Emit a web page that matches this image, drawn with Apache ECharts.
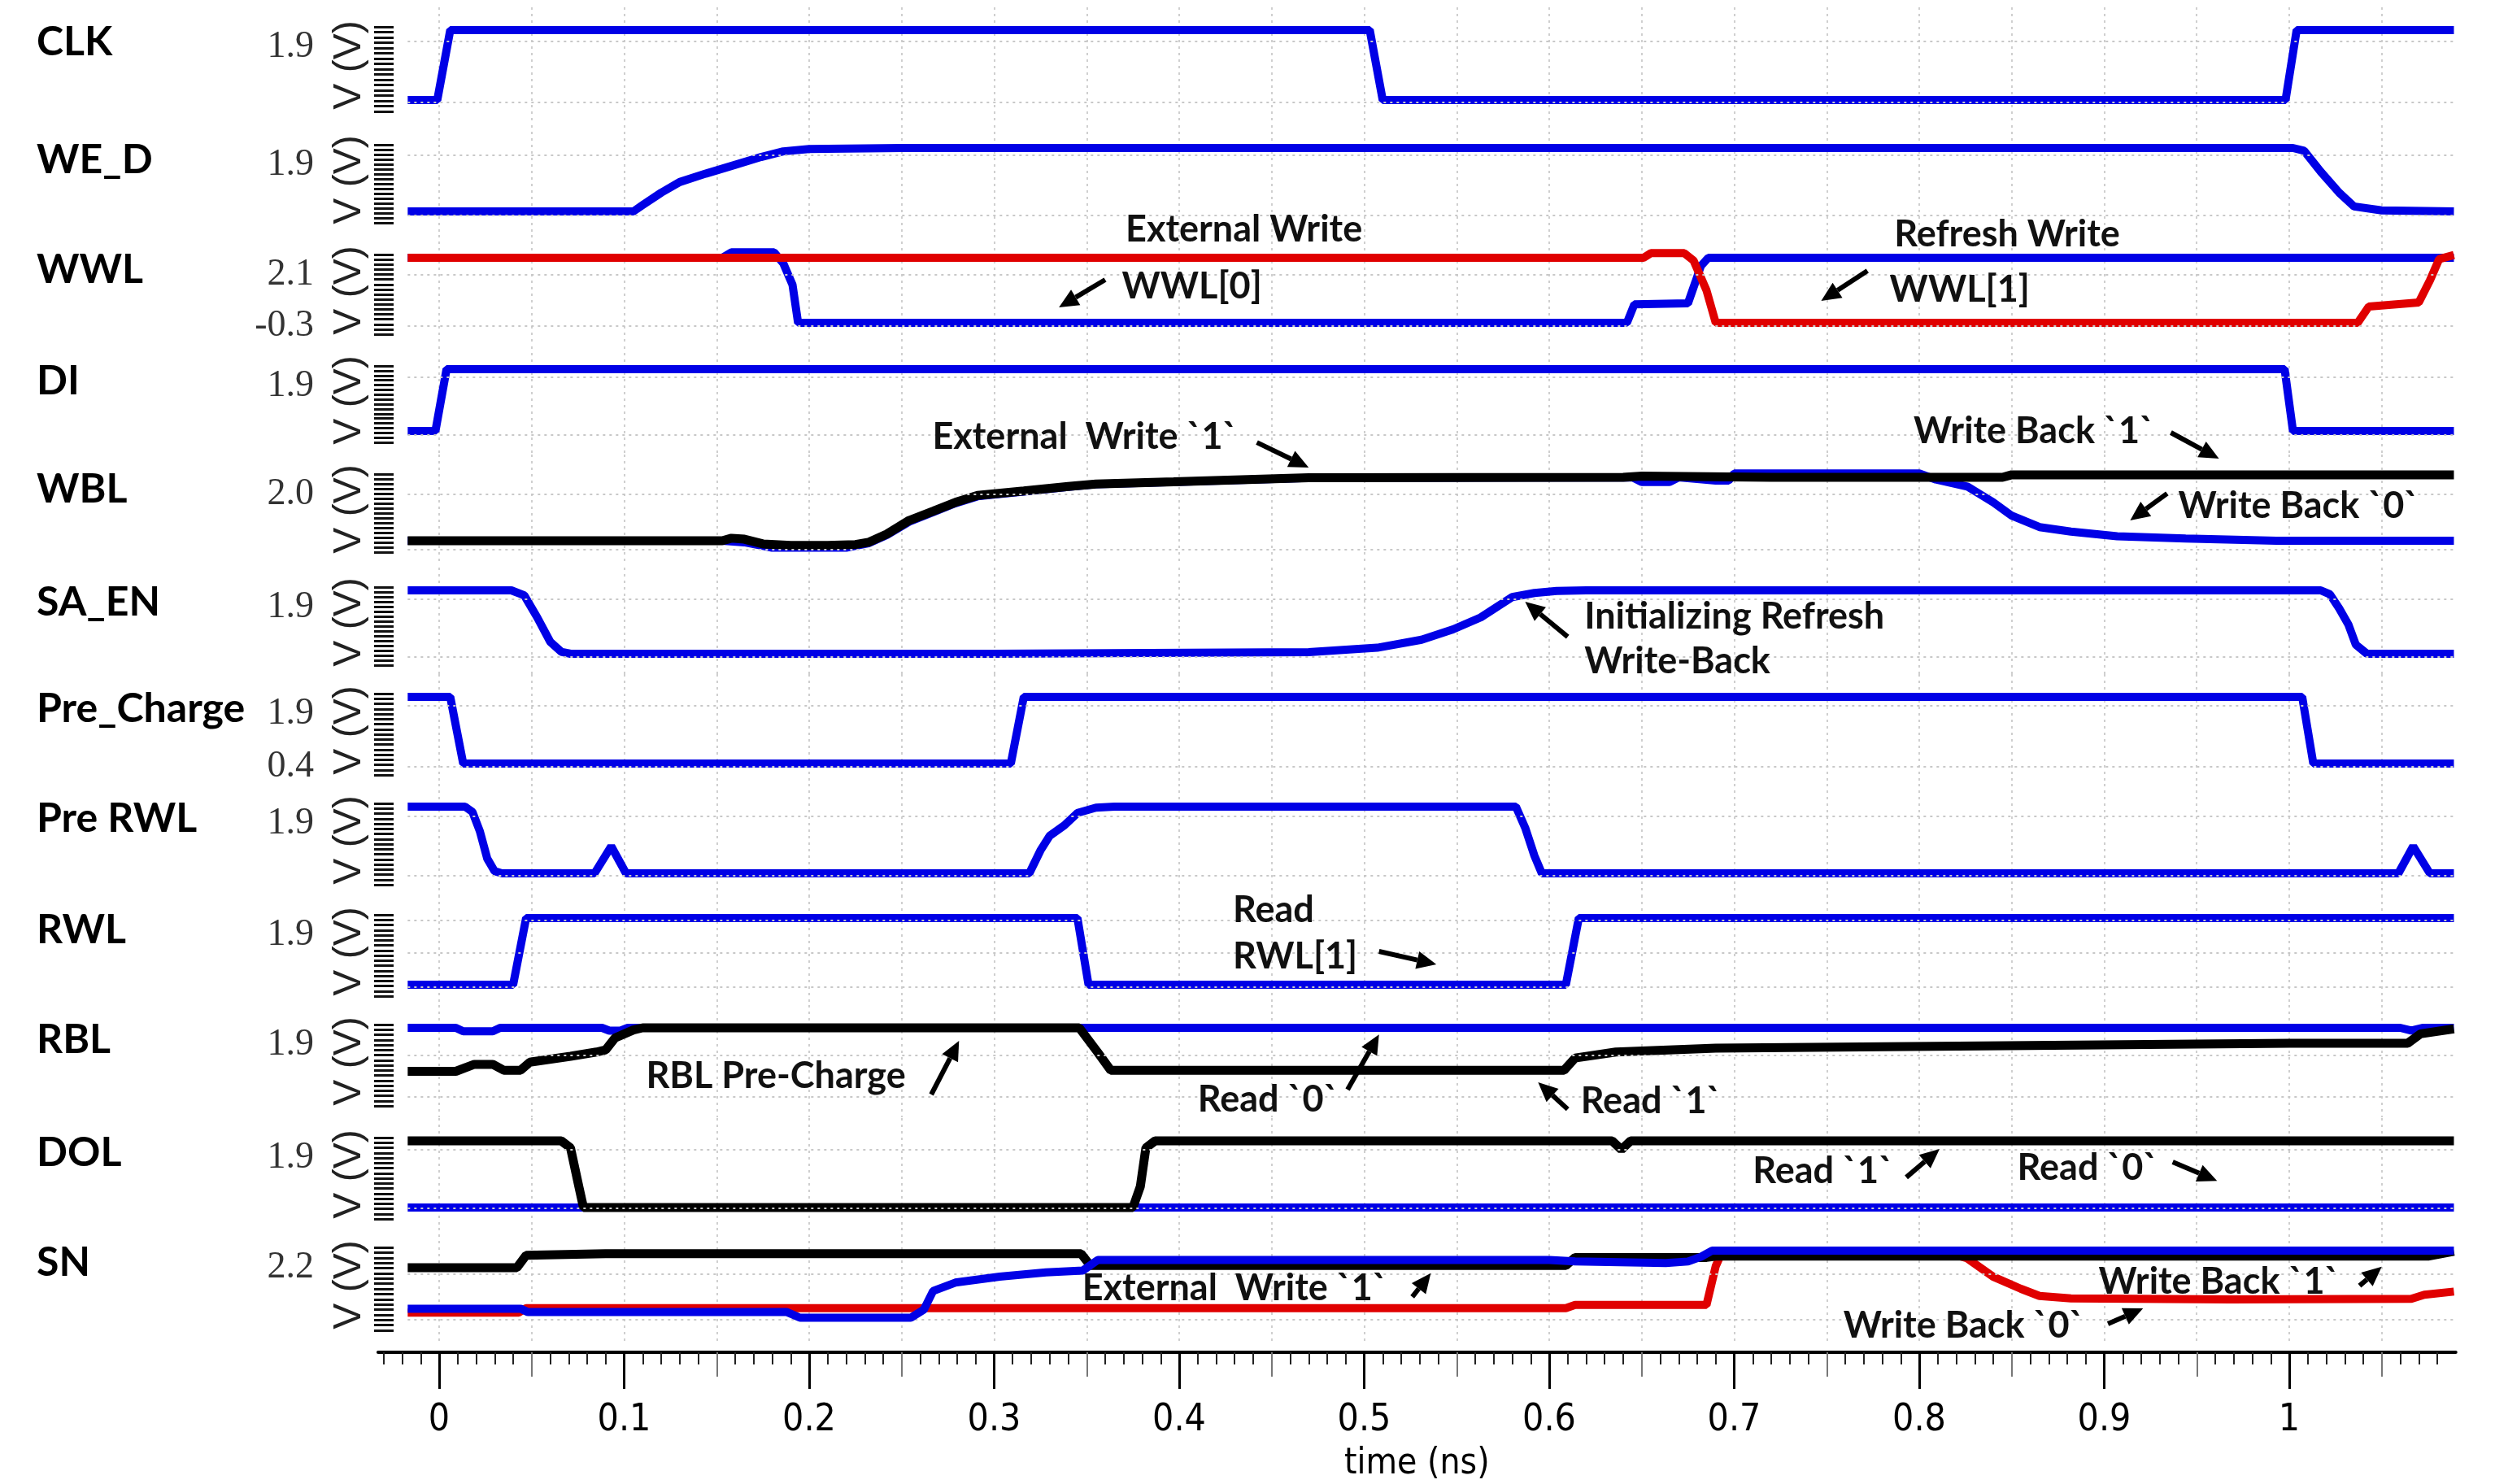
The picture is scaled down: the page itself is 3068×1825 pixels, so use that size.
<!DOCTYPE html>
<html>
<head>
<meta charset="utf-8">
<script src="https://cdn.jsdelivr.net/npm/echarts@6/dist/echarts.min.js"></script>
<style>
html, body { margin: 0; padding: 0; background: #fff; }
#chart { width: 3068px; height: 1825px; }
</style>
</head>
<body>
<div id="chart"></div>
<script>
// ---- data: time in ns, values in V ----
const timeTicks = [0, 0.1, 0.2, 0.3, 0.4, 0.5, 0.6, 0.7, 0.8, 0.9, 1]
const timeLabels = ['0', '0.1', '0.2', '0.3', '0.4', '0.5', '0.6', '0.7', '0.8', '0.9', '1']

const panelNames = ['CLK', 'WE_D', 'WWL', 'DI', 'WBL', 'SA_EN', 'Pre_Charge', 'Pre RWL', 'RWL', 'RBL', 'DOL', 'SN']
const panelTickValues = [[1.9], [1.9], [2.1, -0.3], [1.9], [2.0], [1.9], [1.9, 0.4], [1.9], [1.9], [1.9], [1.9], [2.2]]
const panelTickLabels = [['1.9'], ['1.9'], ['2.1', '-0.3'], ['1.9'], ['2.0'], ['1.9'], ['1.9', '0.4'], ['1.9'], ['1.9'], ['1.9'], ['1.9'], ['2.2']]
// nominal high / low level of each panel
const panelVHi = [1.9, 1.9, 2.1, 1.9, 2.0, 1.9, 1.9, 1.9, 1.9, 1.9, 1.9, 2.2]
const panelVLo = [0, 0, -0.3, 0, 0, 0, 0.4, 0, 0, 0, 0, 0]

const clk = [[-0.017, 0], [-0.001, 0], [0.006, 1.9], [0.503, 1.9], [0.510, 0], [0.998, 0], [1.004, 1.9], [1.089, 1.9]]
const weD = [[-0.017, 0], [0.105, 0], [0.11, 0.19], [0.12, 0.56], [0.13, 0.88], [0.144, 1.13], [0.159, 1.38], [0.174, 1.63],
  [0.186, 1.80], [0.2, 1.87], [0.25, 1.9], [1.002, 1.9], [1.008, 1.82], [1.017, 1.19], [1.027, 0.56], [1.035, 0.15], [1.05, 0.03], [1.089, 0]]
const wwl0 = [[-0.017, 2.1], [0.153, 2.1], [0.158, 2.3], [0.181, 2.3], [0.186, 1.9], [0.191, 1.1], [0.194, -0.3], [0.642, -0.3],
  [0.646, 0.38], [0.675, 0.42], [0.679, 1.2], [0.682, 1.8], [0.686, 2.1], [1.089, 2.1]]
const wwl1 = [[-0.017, 2.1], [0.651, 2.1], [0.655, 2.27], [0.673, 2.27], [0.678, 2.0], [0.685, 0.9], [0.69, -0.3], [1.037, -0.3],
  [1.043, 0.3], [1.07, 0.45], [1.076, 1.26], [1.081, 2.05], [1.089, 2.2]]
const di = [[-0.017, 0], [-0.002, 0], [0.004, 1.9], [0.9975, 1.9], [1.002, 0], [1.089, 0]]
const wblBlack = [[-0.017, 0], [0.153, 0], [0.158, 0.08], [0.165, 0.05], [0.175, -0.1], [0.19, -0.15], [0.21, -0.15], [0.225, -0.12],
  [0.232, -0.05], [0.242, 0.21], [0.254, 0.64], [0.267, 0.93], [0.279, 1.21], [0.291, 1.43], [0.316, 1.57], [0.34, 1.71], [0.355, 1.79],
  [0.397, 1.86], [0.47, 1.99], [0.64, 2.0], [0.65, 2.04], [0.72, 2.0], [0.845, 2.0], [0.85, 2.08], [1.089, 2.08]]
const wblBlue = [[-0.017, 0], [0.153, 0], [0.165, -0.05], [0.18, -0.22], [0.22, -0.22], [0.232, -0.08], [0.242, 0.18], [0.254, 0.6],
  [0.267, 0.9], [0.279, 1.18], [0.291, 1.4], [0.316, 1.55], [0.34, 1.7], [0.355, 1.78], [0.397, 1.85], [0.47, 1.98], [0.645, 2.0],
  [0.65, 1.85], [0.665, 1.85], [0.67, 2.0], [0.69, 1.9], [0.697, 1.9], [0.70, 2.12], [0.80, 2.12], [0.809, 1.93], [0.826, 1.71],
  [0.84, 1.21], [0.85, 0.79], [0.865, 0.43], [0.882, 0.29], [0.907, 0.14], [0.944, 0.07], [0.993, 0], [1.089, 0]]
const saEn = [[-0.017, 1.9], [0.039, 1.9], [0.046, 1.75], [0.053, 1.09], [0.06, 0.36], [0.066, 0.06], [0.071, 0], [0.3, 0], [0.47, 0.05],
  [0.507, 0.18], [0.531, 0.42], [0.548, 0.73], [0.563, 1.09], [0.573, 1.45], [0.58, 1.7], [0.592, 1.82], [0.604, 1.88], [0.62, 1.9],
  [1.017, 1.9], [1.022, 1.78], [1.027, 1.36], [1.032, 0.87], [1.036, 0.27], [1.042, 0], [1.089, 0]]
const preCharge = [[-0.017, 1.9], [0.006, 1.9], [0.013, 0.4], [0.309, 0.4], [0.316, 1.9], [1.007, 1.9], [1.013, 0.4], [1.089, 0.4]]
const preRwl = [[-0.017, 1.9], [0.014, 1.9], [0.018, 1.75], [0.022, 1.2], [0.026, 0.42], [0.03, 0.06], [0.034, 0], [0.084, 0],
  [0.093, 0.77], [0.101, 0], [0.319, 0], [0.325, 0.65], [0.33, 1.07], [0.338, 1.37], [0.345, 1.72], [0.355, 1.87], [0.365, 1.9],
  [0.582, 1.9], [0.587, 1.3], [0.592, 0.5], [0.596, 0], [1.059, 0], [1.067, 0.77], [1.076, 0], [1.089, 0]]
const rwl = [[-0.017, 0], [0.04, 0], [0.047, 1.9], [0.345, 1.9], [0.351, 0], [0.609, 0], [0.616, 1.9], [1.089, 1.9]]
const rblBlue = [[-0.017, 1.9], [0.009, 1.9], [0.013, 1.8], [0.029, 1.8], [0.033, 1.9], [0.088, 1.9], [0.092, 1.82], [0.098, 1.82],
  [0.102, 1.9], [1.06, 1.9], [1.066, 1.82], [1.072, 1.9], [1.089, 1.9]]
const rblBlack = [[-0.017, 0.66], [0.009, 0.66], [0.019, 0.86], [0.029, 0.86], [0.035, 0.69], [0.044, 0.69], [0.049, 0.92], [0.071, 1.09],
  [0.085, 1.21], [0.09, 1.27], [0.095, 1.61], [0.105, 1.84], [0.11, 1.9], [0.346, 1.9], [0.356, 1.2], [0.363, 0.69], [0.608, 0.69],
  [0.614, 1.04], [0.636, 1.21], [0.69, 1.32], [0.821, 1.38], [1.0, 1.46], [1.064, 1.46], [1.071, 1.73], [1.089, 1.87]]
const dolBlue = [[-0.017, 0], [1.089, 0]]
const dolBlack = [[-0.017, 1.9], [0.066, 1.9], [0.071, 1.7], [0.0755, 0.6], [0.078, 0], [0.375, 0], [0.379, 0.6], [0.382, 1.7],
  [0.387, 1.9], [0.634, 1.9], [0.639, 1.65], [0.644, 1.9], [1.089, 1.9]]
const snRed = [[-0.017, 0.2], [0.043, 0.2], [0.047, 0.35], [0.609, 0.35], [0.614, 0.45], [0.685, 0.45], [0.69, 1.7], [0.693, 2.1],
  [0.816, 2.12], [0.826, 1.95], [0.84, 1.36], [0.855, 0.97], [0.865, 0.74], [0.882, 0.66], [0.968, 0.63], [1.066, 0.65], [1.073, 0.78], [1.089, 0.88]]
const snBlack = [[-0.017, 1.65], [0.042, 1.65], [0.047, 2.05], [0.09, 2.1], [0.347, 2.1], [0.352, 1.72], [0.609, 1.72], [0.614, 1.98],
  [0.685, 1.98], [0.69, 2.02], [1.075, 2.02], [1.089, 2.18]]
const snBlue = [[-0.017, 0.33], [0.044, 0.33], [0.048, 0.22], [0.188, 0.22], [0.195, 0.04], [0.255, 0.04], [0.262, 0.3], [0.267, 0.9],
  [0.279, 1.17], [0.303, 1.36], [0.328, 1.5], [0.348, 1.56], [0.356, 1.9], [0.6, 1.9], [0.614, 1.85], [0.663, 1.8], [0.675, 1.85],
  [0.682, 2.0], [0.688, 2.2], [1.089, 2.2]]

// dotted reference levels in each panel
const hGrid = [[-0.06, 1.6], [-0.11, 1.69], [-0.42, 1.48], [-0.13, 1.65], [-0.28, 1.48], [-0.08, 1.63], [0.34, 1.7],
  [-0.06, 1.63], [-0.06, 0.91, 1.84], [-0.06, 1.12], [-0.02, 1.65], [-0.03, 1.46]]

// text notes: [panel, text, t, v, align]
const notes = [
  [2, 'External Write', 0.435, 3.15, 'center'],
  [2, 'WWL[0]', 0.369, 1.05, 'left'],
  [2, 'Refresh Write', 0.8475, 2.97, 'center'],
  [2, 'WWL[1]', 0.784, 0.93, 'left'],
  [4, 'External  Write `1`', 0.349, 3.26, 'center'],
  [4, 'Write Back `1`', 0.862, 3.46, 'center'],
  [4, 'Write Back `0`', 1.005, 1.10, 'center'],
  [5, 'Initializing Refresh', 0.619, 1.10, 'left'],
  [5, 'Write-Back', 0.619, -0.24, 'left'],
  [8, 'Read', 0.429, 2.13, 'left'],
  [8, 'RWL[1]', 0.429, 0.81, 'left'],
  [9, 'RBL Pre-Charge', 0.182, 0.53, 'center'],
  [9, 'Read `0`', 0.448, -0.14, 'center'],
  [9, 'Read `1`', 0.655, -0.19, 'center'],
  [10, 'Read `1`', 0.748, 1.04, 'center'],
  [10, 'Read `0`', 0.891, 1.13, 'center'],
  [11, 'External  Write `1`', 0.430, 0.97, 'center'],
  [11, 'Write Back `1`', 0.962, 1.18, 'center'],
  [11, 'Write Back `0`', 0.824, -0.21, 'center']
]
// arrows: [panel, t0, v0, t1, v1], head at (t1, v1)
const arrows = [
  [2, 0.360, 1.29, 0.335, 0.27],
  [2, 0.772, 1.62, 0.747, 0.51],
  [4, 0.442, 3.10, 0.470, 2.31],
  [4, 0.936, 3.41, 0.962, 2.59],
  [4, 0.934, 1.49, 0.914, 0.64],
  [5, 0.610, 0.51, 0.587, 1.56],
  [8, 0.508, 0.95, 0.539, 0.58],
  [9, 0.266, 0.0, 0.281, 1.53],
  [9, 0.491, 0.14, 0.508, 1.71],
  [9, 0.610, -0.42, 0.594, 0.35],
  [10, 0.793, 0.86, 0.811, 1.67],
  [10, 0.937, 1.30, 0.961, 0.76],
  [11, 0.526, 0.71, 0.536, 1.47],
  [11, 1.038, 1.07, 1.050, 1.68],
  [11, 0.902, -0.16, 0.921, 0.34]
]

// ---- layout ----
const BLUE = '#0000e6'
const RED = '#e00000'
const BLACK = '#000000'

const X0 = 540        // pixel of t = 0
const PX_NS = 2275    // pixels per ns
const T_MIN = -0.05
const T_MAX = 1.1
const AX_MIN = -0.033
const AX_MAX = 1.09
const PAD = 28

const panelYHi = [37, 182, 317, 454, 587, 726, 857, 992, 1129, 1264, 1403, 1538]
const panelYLo = [123, 260, 397, 530, 665, 804, 939, 1074, 1211, 1346, 1485, 1622]

const panelSeries = [
  [[clk, BLUE]],
  [[weD, BLUE]],
  [[wwl0, BLUE], [wwl1, RED]],
  [[di, BLUE]],
  [[wblBlue, BLUE], [wblBlack, BLACK]],
  [[saEn, BLUE]],
  [[preCharge, BLUE]],
  [[preRwl, BLUE]],
  [[rwl, BLUE]],
  [[rblBlue, BLUE], [rblBlack, BLACK]],
  [[dolBlue, BLUE], [dolBlack, BLACK]],
  [[snRed, RED], [snBlack, BLACK], [snBlue, BLUE]]
]

const gridLeft = X0 + T_MIN * PX_NS
const gridRight = 3068 - (X0 + T_MAX * PX_NS)
const axisLeft = X0 + AX_MIN * PX_NS
const axisRight = 3068 - (X0 + AX_MAX * PX_NS)
const BAR_X = 460

const grids = []
const xAxes = []
const yAxes = []
const series = []

panelNames.forEach((name, i) => {
  const yHi = panelYHi[i]
  const yLo = panelYLo[i]
  const k = (yLo - yHi) / (panelVHi[i] - panelVLo[i])
  const yMax = panelVHi[i] + PAD / k
  const yMin = panelVLo[i] - PAD / k

  grids.push({ left: gridLeft, right: gridRight, top: yHi - PAD, height: yLo - yHi + 2 * PAD })

  xAxes.push({
    type: 'value',
    gridIndex: i,
    min: T_MIN,
    max: T_MAX,
    interval: 0.05,
    axisLine: { show: false, onZero: false },
    axisTick: { show: false },
    axisLabel: { show: false },
    splitLine: {
      show: true,
      showMinLine: false,
      showMaxLine: false,
      lineStyle: { color: '#cfcfcf', type: [3, 5], width: 2 },
    },
  })

  const barTop = panelVHi[i] + 4 / k
  const barBot = panelVLo[i] - 14 / k
  const barTicks = []
  for (let j = 0; j < 17; j++) {
    barTicks.push(barTop - ((barTop - barBot) * j) / 16)
  }

  yAxes.push({
    type: 'value',
    gridIndex: i,
    min: yMin,
    max: yMax,
    offset: gridLeft - BAR_X,
    name: 'V (V)',
    nameLocation: 'middle',
    nameRotate: 90,
    nameGap: 6,
    nameMoveOverlap: false,
    nameTextStyle: { fontFamily: 'Liberation Sans', fontSize: 48, color: '#222' },
    axisLine: { show: false, onZero: false },
    splitLine: { show: false },
    axisTick: {
      show: true,
      inside: true,
      length: 24,
      customValues: barTicks,
      lineStyle: { color: '#111', width: 3 },
    },
    axisLabel: {
      show: true,
      margin: 74,
      customValues: panelTickValues[i],
      formatter: (v) => {
        const idx = panelTickValues[i].indexOf(v)
        const text = idx >= 0 ? panelTickLabels[i][idx] : String(v)
        return v === panelVHi[i] ? '{hi|' + text + '}' : '{lo|' + text + '}'
      },
      rich: {
        hi: { fontFamily: 'Liberation Serif', fontSize: 46, color: '#333', padding: [42, 0, 0, 0] },
        lo: { fontFamily: 'Liberation Serif', fontSize: 46, color: '#333', padding: [8, 0, 0, 0] },
      },
    },
  })

  // dotted level lines
  series.push({
    type: 'line',
    xAxisIndex: i,
    yAxisIndex: i,
    data: [],
    silent: true,
    z: 1,
    markLine: {
      silent: true,
      symbol: 'none',
      label: { show: false },
      animation: false,
      lineStyle: { color: '#c8c8c8', type: [3, 5], width: 2 },
      data: hGrid[i].map((v) => [{ coord: [-0.017, v] }, { coord: [1.089, v] }]),
    },
  })

  panelSeries[i].forEach(([data, color], s) => {
    series.push({
      type: 'line',
      name: name,
      xAxisIndex: i,
      yAxisIndex: i,
      data: data,
      showSymbol: false,
      symbol: 'none',
      smooth: false,
      z: 3 + s,
      lineStyle: { color: color, width: color === BLACK ? 11 : 10 },
      itemStyle: { color: color },
    })
  })
})

// bottom time axis built from three overlaid axes (major / mid / minor ticks)
const midTicks = []
for (let j = 0; j <= 10; j++) midTicks.push(Math.round((j * 0.1 + 0.05) * 100) / 100)
const minorTicks = []
for (let j = -3; j <= 108; j++) minorTicks.push(Math.round(j) / 100)

const AXIS_Y = 1663
const tickLayers = [
  { ticks: minorTicks, len: 15, color: '#222', width: 2 },
  { ticks: midTicks, len: 30, color: '#777', width: 2 },
  { ticks: timeTicks, len: 45, color: '#000', width: 3 },
]
tickLayers.forEach((layer, j) => {
  const gi = panelNames.length + j
  const isMajor = j === tickLayers.length - 1
  grids.push({ left: axisLeft, right: axisRight, top: AXIS_Y - 1, height: 1 })
  yAxes.push({ type: 'value', gridIndex: gi, show: false })
  xAxes.push({
    type: 'value',
    gridIndex: gi,
    min: AX_MIN,
    max: AX_MAX,
    position: 'bottom',
    axisLine: { show: isMajor, onZero: false, lineStyle: { color: '#000', width: 4 } },
    splitLine: { show: false },
    axisTick: {
      show: true,
      length: layer.len,
      customValues: layer.ticks,
      lineStyle: { color: layer.color, width: layer.width },
    },
    axisLabel: {
      show: isMajor,
      customValues: timeTicks,
      margin: 61,
      fontFamily: 'Liberation Sans Narrow, DejaVu Sans Condensed, sans-serif',
      fontSize: 46,
      color: '#000',
      formatter: (v) => {
        const idx = timeTicks.indexOf(v)
        return idx >= 0 ? timeLabels[idx] : String(v)
      },
    },
    name: isMajor ? 'time (ns)' : '',
    nameLocation: 'middle',
    nameGap: 116,
    nameMoveOverlap: false,
    nameTextStyle: {
      fontFamily: 'Liberation Sans Narrow, DejaVu Sans Condensed, sans-serif',
      fontSize: 44,
      color: '#000',
    },
  })
})

const chart = echarts.init(document.getElementById('chart'))
chart.setOption({
  animation: false,
  backgroundColor: '#ffffff',
  grid: grids,
  xAxis: xAxes,
  yAxis: yAxes,
  series: series,
})

// panel names, notes and arrows
const graphics = []
panelNames.forEach((name, i) => {
  graphics.push({
    type: 'text',
    x: 45,
    y: panelYHi[i] + 15,
    z: 100,
    style: { text: name, font: 'bold 50px Lato, "Open Sans", sans-serif', fill: '#000', verticalAlign: 'middle' },
  })
})

notes.forEach(([p, text, t, v, align]) => {
  const pt = chart.convertToPixel({ gridIndex: p }, [t, v])
  graphics.push({
    type: 'text',
    x: pt[0],
    y: pt[1],
    z: 100,
    style: { text: text, font: 'bold 45px Lato, "Open Sans", sans-serif', fill: '#111', align: align, verticalAlign: 'middle' },
  })
})

arrows.forEach(([p, t0, v0, t1, v1]) => {
  const a = chart.convertToPixel({ gridIndex: p }, [t0, v0])
  const b = chart.convertToPixel({ gridIndex: p }, [t1, v1])
  const dx = b[0] - a[0]
  const dy = b[1] - a[1]
  const len = Math.sqrt(dx * dx + dy * dy)
  const ux = dx / len
  const uy = dy / len
  const head = 24
  const half = 11
  const bx = b[0] - ux * head
  const by = b[1] - uy * head
  graphics.push({
    type: 'line',
    z: 100,
    shape: { x1: a[0], y1: a[1], x2: bx, y2: by },
    style: { stroke: '#000', lineWidth: 6 },
  })
  graphics.push({
    type: 'polygon',
    z: 100,
    shape: { points: [[b[0], b[1]], [bx - uy * half, by + ux * half], [bx + uy * half, by - ux * half]] },
    style: { fill: '#000' },
  })
})

chart.setOption({ graphic: graphics })
</script>
</body>
</html>
